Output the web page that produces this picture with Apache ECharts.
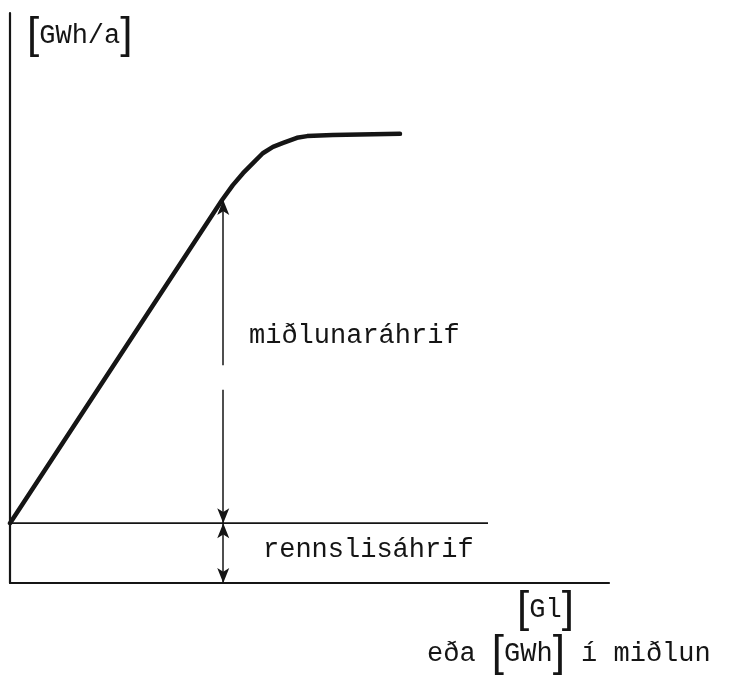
<!DOCTYPE html>
<html>
<head>
<meta charset="utf-8">
<script src="https://cdn.jsdelivr.net/npm/echarts@6/dist/echarts.min.js"></script>
<style>
  html, body { margin: 0; padding: 0; background: #fff; }
  #chart { width: 749px; height: 675px; }
</style>
</head>
<body>
<div id="chart"></div>
<script>
// schematic: yearly energy vs storage volume (no scale on either axis)
const curveX = [0, 35.4, 37.2, 38.9, 40.6, 42.2, 43.9, 45.6, 47.9, 49.6, 53.9, 65.1];
const curveY = [10.5, 67.2, 69.8, 71.9, 73.7, 75.4, 76.5, 77.2, 78.1, 78.4, 78.6, 78.8];

// run-of-river level (horizontal line) and where it stops
const flowLevel = 10.5;
const flowLineEnd = 79.8;

// dimension arrows at x = arrowX
const arrowX = 35.6;
const storageArrowTop = [67.2, 38.2];
const storageArrowBottom = [33.9, 10.5];
const flowArrow = [10.5, 0];

const yName = "GWh/a";
const xNameTop = "Gl";
const labelStorage = "miðlunaráhrif";
const labelFlow = "rennslisáhrif";

const ink = "#151515";
const mono = "Liberation Mono";
const fs = 27;

const chart = echarts.init(document.getElementById("chart"));

const bracket = { fontFamily: "Liberation Sans", fontSize: 44, fill: ink, verticalAlign: "middle" };
const txt = { fontFamily: mono, fontSize: fs, fill: ink, verticalAlign: "middle" };

const arrowLine = (from, to, symbols) => ({
  type: "line",
  data: [],
  silent: true,
  markLine: {
    silent: true,
    animation: false,
    symbol: symbols,
    symbolSize: [9, 15],
    label: { show: false },
    lineStyle: { color: ink, width: 1.5, type: "solid" },
    data: [[{ coord: [arrowX, from] }, { coord: [arrowX, to] }]],
  },
});

chart.setOption({
  animation: false,
  grid: { left: 10, right: 140, top: 13, bottom: 92 },
  xAxis: {
    type: "value",
    min: 0,
    max: 100,
    axisLine: { show: true, onZero: false, lineStyle: { color: ink, width: 2.2 } },
    axisTick: { show: false },
    axisLabel: { show: false },
    splitLine: { show: false },
  },
  yAxis: {
    type: "value",
    min: 0,
    max: 100,
    axisLine: { show: true, lineStyle: { color: ink, width: 2.2 } },
    axisTick: { show: false },
    axisLabel: { show: false },
    splitLine: { show: false },
    name: "{b|[}{t|" + yName + "}{b|]}",
    nameLocation: "end",
    nameGap: -45,
    nameTextStyle: {
      align: "left",
      padding: [0, 0, 0, 17],
      rich: {
        b: { fontFamily: "Liberation Sans", fontSize: 44, color: ink },
        t: { fontFamily: mono, fontSize: fs, color: ink },
      },
    },
  },
  series: [
    {
      type: "line",
      data: curveX.map((x, i) => [x, curveY[i]]),
      smooth: false,
      showSymbol: false,
      lineStyle: { color: ink, width: 4.5, cap: "round", join: "round" },
      silent: true,
    },
    {
      type: "line",
      data: [[0, flowLevel], [flowLineEnd, flowLevel]],
      showSymbol: false,
      lineStyle: { color: ink, width: 1.6 },
      silent: true,
    },
    arrowLine(storageArrowTop[0], storageArrowTop[1], ["arrow", "none"]),
    arrowLine(storageArrowBottom[0], storageArrowBottom[1], ["none", "arrow"]),
    arrowLine(flowArrow[0], flowArrow[1], ["arrow", "arrow"]),
  ],
  graphic: [
    { type: "text", x: 249, y: 336, style: Object.assign({ text: labelStorage }, txt) },
    { type: "text", x: 263, y: 550, style: Object.assign({ text: labelFlow }, txt) },
    {
      type: "text",
      x: 517,
      y: 610,
      style: {
        text: "{b|[}{t|" + xNameTop + "}{b|]}",
        verticalAlign: "middle",
        rich: { b: bracket, t: txt },
      },
    },
    {
      type: "text",
      x: 427,
      y: 654,
      style: {
        text: "{t|eða }{b|[}{t|GWh}{b|]}{t| í miðlun}",
        verticalAlign: "middle",
        rich: { b: bracket, t: txt },
      },
    },
  ],
});
</script>
</body>
</html>
